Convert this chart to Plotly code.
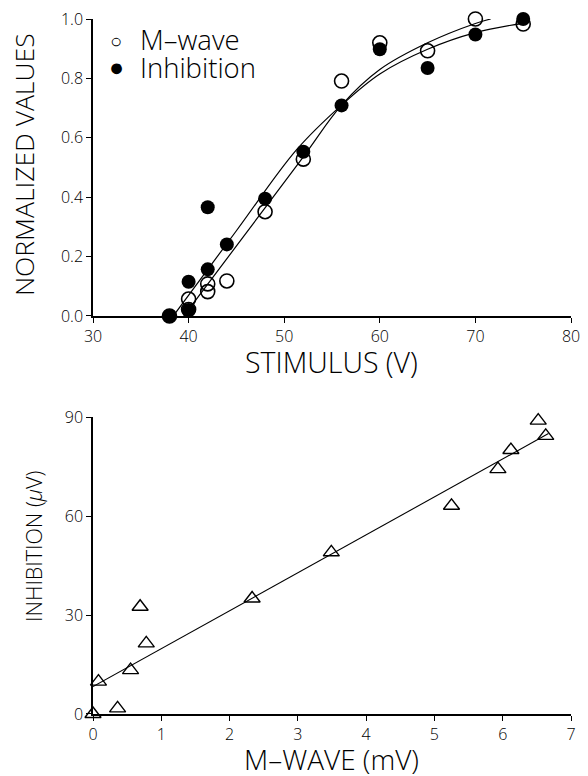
import plotly.graph_objects as go

# ---- Top panel data ----
mwave_x = [38, 40, 40, 42, 42, 44, 48, 52, 56, 60, 65, 70, 75]
mwave_y = [0.0, 0.057, 0.022, 0.108, 0.082, 0.118, 0.351, 0.528, 0.791, 0.92, 0.893, 1.0, 0.983]
inhib_x = [38, 40, 40, 42, 42, 44, 48, 52, 56, 60, 65, 70, 75]
inhib_y = [0.0, 0.115, 0.02, 0.366, 0.157, 0.241, 0.395, 0.553, 0.709, 0.898, 0.835, 0.948, 1.0]

# fitted curves
mwave_fit_x = [39.5, 45.5, 52.0, 56.0, 60.0, 65.0, 70.0, 71.6]
mwave_fit_y = [0.0, 0.257, 0.536, 0.71, 0.83, 0.92, 0.985, 1.0]
inhib_fit_x = [38.4, 45.0, 51.3, 56.0, 60.0, 65.0, 70.0, 75.4]
inhib_fit_y = [0.0, 0.287, 0.56, 0.71, 0.815, 0.898, 0.954, 0.988]

# ---- Bottom panel data ----
mw_amp = [0.0, 0.08, 0.36, 0.55, 0.69, 0.78, 2.33, 3.49, 5.25, 5.93, 6.12, 6.52, 6.63]
inh_amp = [0.0, 9.8, 1.7, 13.3, 32.5, 21.4, 35.0, 49.0, 63.1, 74.2, 80.0, 88.9, 84.3]
reg_x = [0.0, 6.67]
reg_y = [8.3, 85.0]

top_xticks = [30, 40, 50, 60, 70, 80]
top_yticks = [0.0, 0.2, 0.4, 0.6, 0.8, 1.0]
bot_xticks = [0, 1, 2, 3, 4, 5, 6, 7]
bot_yticks = [0, 30, 60, 90]

legend_names = ["M\u2013wave", "Inhibition"]
legend_symbols = ["\u25cb", "\u25cf"]

FONT = "Open Sans, DejaVu Sans"
W = 300
fig = go.Figure()

fig.add_trace(go.Scatter(x=mwave_fit_x, y=mwave_fit_y, mode="lines",
                         line=dict(color="black", width=1.2, shape="spline"),
                         showlegend=False, xaxis="x", yaxis="y"))
fig.add_trace(go.Scatter(x=inhib_fit_x, y=inhib_fit_y, mode="lines",
                         line=dict(color="black", width=1.2, shape="spline"),
                         showlegend=False, xaxis="x", yaxis="y"))
fig.add_trace(go.Scatter(x=mwave_x, y=mwave_y, mode="markers", name=legend_names[0],
                         marker=dict(symbol="circle-open", size=14, color="black",
                                     line=dict(width=1.6, color="black")),
                         showlegend=False, cliponaxis=False, xaxis="x", yaxis="y"))
fig.add_trace(go.Scatter(x=inhib_x, y=inhib_y, mode="markers", name=legend_names[1],
                         marker=dict(symbol="circle", size=14, color="black"),
                         showlegend=False, cliponaxis=False, xaxis="x", yaxis="y"))

fig.add_trace(go.Scatter(x=reg_x, y=reg_y, mode="lines",
                         line=dict(color="black", width=1.1),
                         showlegend=False, xaxis="x2", yaxis="y2"))
fig.add_trace(go.Scatter(x=mw_amp, y=inh_amp, mode="markers",
                         marker=dict(symbol="triangle-up-open", size=14, color="black",
                                     line=dict(width=1.4, color="black")),
                         showlegend=False, cliponaxis=False, xaxis="x2", yaxis="y2"))

axis_common = dict(showline=True, linecolor="black", linewidth=1.5, showgrid=False,
                   zeroline=False, ticks="outside", ticklen=5, tickwidth=1.2,
                   tickcolor="black", automargin=False, ticklabeloverflow="allow",
                   tickfont=dict(family=FONT, size=16, color="black", weight=W))
# inner half of the crossing tick marks
inner_ticks = dict(showline=False, showgrid=False, zeroline=False, ticks="inside",
                   ticklen=4, tickwidth=1.2, tickcolor="black", showticklabels=False,
                   automargin=False)

# page body has an 8px margin, so the figure is 8px smaller than the window
fig.update_layout(
    width=580, height=768,
    paper_bgcolor="white", plot_bgcolor="white",
    margin=dict(l=85, r=17, t=11, b=62, autoexpand=False),
    font=dict(family=FONT, color="black", weight=W),
    xaxis=dict(domain=[0, 1], anchor="y", range=[30, 80], tickvals=top_xticks, **axis_common),
    yaxis=dict(domain=[0.5727, 1.0], anchor="x", range=[0, 1.0], tickvals=top_yticks,
               tickformat=".1f", **axis_common),
    xaxis2=dict(domain=[0, 1], anchor="y2", range=[0, 7], tickvals=bot_xticks, **axis_common),
    yaxis2=dict(domain=[0, 0.4273], anchor="x2", range=[0, 90], tickvals=bot_yticks, **axis_common),
    xaxis3=dict(overlaying="x", anchor="y", side="bottom", range=[30, 80],
                tickvals=top_xticks[1:], **inner_ticks),
    xaxis4=dict(overlaying="x2", anchor="y2", side="bottom", range=[0, 7],
                tickvals=bot_xticks[1:], **inner_ticks),
    yaxis3=dict(overlaying="y2", anchor="x2", side="left", range=[0, 90],
                tickvals=bot_yticks[1:], **inner_ticks),
    showlegend=False,
)

def ypix(p):
    return (714 - p) / 695

def xpix(p):
    return (p - 93) / 478

# legend drawn as text
sym_sizes = [20, 25]
for i, (sym, name) in enumerate(zip(legend_symbols, legend_names)):
    fig.add_annotation(text=sym, x=xpix(116), y=ypix([41, 68][i]), xref="paper", yref="paper",
                       showarrow=False, xanchor="center", yanchor="middle",
                       font=dict(family="DejaVu Sans", size=sym_sizes[i], color="black"))
    fig.add_annotation(text=name, x=xpix(138), y=ypix([40, 68][i]), xref="paper", yref="paper",
                       showarrow=False, xanchor="left", yanchor="middle",
                       font=dict(family=FONT, size=27.5, color="black", weight=W))

def title(text, x, y, size, angle=0):
    fig.add_annotation(text=text, x=x, y=y, xref="paper", yref="paper", showarrow=False,
                       textangle=angle, xanchor="center", yanchor="middle", borderpad=0,
                       font=dict(family=FONT, size=size, color="black", weight=W))

title("STIMULUS (V)", xpix(331), ypix(362), 28.5)
title("M\u2013WAVE (mV)", xpix(331), ypix(759), 28)
title("NORMALIZED VALUES", xpix(24), ypix(165), 26.5, -90)
title("INHIBITION (<i>\u03bc</i>V)", xpix(33), ypix(547), 21.5, -90)

fig.write_html("out.html")
